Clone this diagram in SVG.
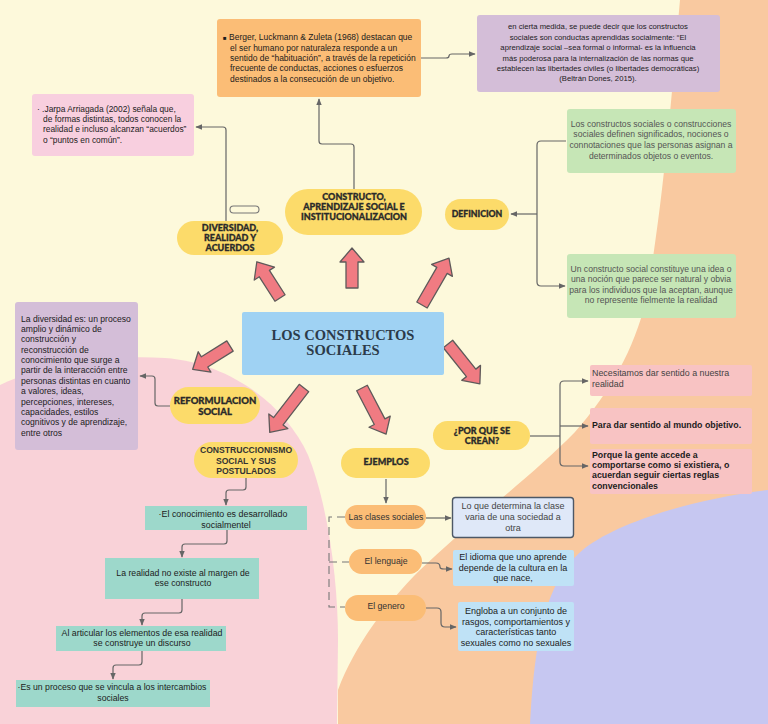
<svg xmlns="http://www.w3.org/2000/svg" width="768" height="724" viewBox="0 0 768 724">
<defs>
<style>
.t{font-family:"Liberation Sans",Arial,sans-serif;font-size:8.7px;fill:#1c1c1c}
.g{fill:#555}
.b{font-weight:bold}
.c{text-anchor:middle}
.h{font-family:Lato,"DejaVu Sans",sans-serif;font-weight:900;font-size:9px;fill:#2a2a2a;stroke:#2a2a2a;stroke-width:0.3;text-anchor:middle}
.cn{fill:none;stroke:#666;stroke-width:1.2}
.ds{fill:none;stroke:#777;stroke-width:1.1;stroke-dasharray:8 5}
.fa{fill:#f07b82;stroke:#5f5a5a;stroke-width:1.3;stroke-linejoin:round}
.yl{fill:#fcdb6a}
.or{fill:#fbbd76}
.pu{fill:#d4bed8}
.gr{fill:#c6e6b6}
.pk{fill:#f8cfdf}
.sa{fill:#f8c3c3}
.te{fill:#9dd8cb}
.bl{fill:#bfe2f6}
</style>
<marker id="ah" viewBox="0 0 10 10" refX="9" refY="5" markerWidth="7" markerHeight="7" orient="auto-start-reverse" markerUnits="userSpaceOnUse">
<path d="M0,1 L10,5 L0,9 Z" fill="#666"/>
</marker>
</defs>

<g id="background">
<rect width="768" height="724" fill="#fdf9db"/>
<path d="M680,0 C672,90 664,200 646,300 C634,350 610,392 575,432 C530,478 470,522 420,570 C385,605 355,645 338,690 L338,724 L768,724 L768,0 Z" fill="#f9c9a0"/>
<path d="M768,490 C700,498 622,520 585,548 C550,576 535,625 530,724 L768,724 Z" fill="#c6c7f1"/>
<path d="M0,385 C50,362 110,355 165,358 C230,363 285,405 308,455 C328,505 338,580 338,640 L337,724 L0,724 Z" fill="#f9d2d8"/>
</g>

<g id="connectors">
<path class="cn" d="M421,58 H446 Q449,58 449,56 Q449,54 452,54 H475" marker-end="url(#ah)"/>
<path class="cn" d="M354,189 V147 Q354,144 351,144 H322 Q319,144 319,141 V99" marker-end="url(#ah)"/>
<path class="cn" d="M226,221 V130 Q226,127 223,127 H196" marker-end="url(#ah)"/>
<rect x="230" y="206" width="29" height="7" rx="3.5" fill="none" stroke="#777" stroke-width="1.1"/>
<path class="cn" d="M566,141 H541 Q537,141 537,145 V282 Q537,286 541,286 H565" marker-end="url(#ah)"/>
<path class="cn" d="M537,214 H511" marker-end="url(#ah)"/>
<path class="cn" d="M170,406 H158 Q155,406 155,403 V379 Q155,376 152,376 H140" marker-end="url(#ah)"/>
<path class="cn" d="M530,436 H560"/>
<path class="cn" d="M588,381 H564 Q560,381 560,385 V462 Q560,466 564,466 H588" marker-start="url(#ah)" marker-end="url(#ah)"/>
<path class="cn" d="M560,426 H588" marker-end="url(#ah)"/>
<path class="cn" d="M246,478 V487 Q246,490 243,490 H229 Q226,490 226,493 V505" marker-end="url(#ah)"/>
<path class="cn" d="M227,530 V541 Q227,544 224,544 H185 Q182,544 182,547 V557" marker-end="url(#ah)"/>
<path class="cn" d="M182,599 V610 Q182,613 179,613 H145 Q142,613 142,616 V625" marker-end="url(#ah)"/>
<path class="cn" d="M142,651 V662 Q142,665 139,665 H116 Q113,665 113,668 V679" marker-end="url(#ah)"/>
<path class="cn" d="M386,479 V503" marker-end="url(#ah)"/>
<path class="ds" d="M345,517 H329 V607 H345 M329,562 H349"/>
<path class="cn" d="M426,518 H451" marker-end="url(#ah)"/>
<path class="cn" d="M422,563 H436 Q440,563 440,567 Q440,569 444,569 H452" marker-end="url(#ah)"/>
<path class="cn" d="M426,608 H437 Q441,608 441,612 V623 Q441,627 445,627 H456" marker-end="url(#ah)"/>
</g>

<g id="big-arrows">
<path class="fa" transform="translate(280,298) rotate(-122.6)" d="M0,-6 H29 V-12 L43,0 L29,12 V6 H0 Z"/>
<path class="fa" transform="translate(352,288) rotate(-90)" d="M0,-6 H26 V-12 L40,0 L26,12 V6 H0 Z"/>
<path class="fa" transform="translate(422,305) rotate(-60)" d="M0,-6 H40 V-12 L54,0 L40,12 V6 H0 Z"/>
<path class="fa" transform="translate(230,346) rotate(148)" d="M0,-6 H30 V-12 L44,0 L30,12 V6 H0 Z"/>
<path class="fa" transform="translate(304,388) rotate(127.7)" d="M0,-6 H42 V-12 L56,0 L42,12 V6 H0 Z"/>
<path class="fa" transform="translate(362,388) rotate(62.4)" d="M0,-6 H38 V-12 L52,0 L38,12 V6 H0 Z"/>
<path class="fa" transform="translate(448,344) rotate(51.3)" d="M0,-6 H37 V-12 L51,0 L37,12 V6 H0 Z"/>
</g>

<g id="center">
<rect x="242" y="312" width="202" height="63" rx="2" fill="#9fd2f3"/>
<text x="343" y="340" text-anchor="middle" font-family="'Liberation Serif','DejaVu Serif',serif" font-weight="bold" font-size="14.5" fill="#2c3b4a">LOS CONSTRUCTOS</text>
<text x="343" y="355" text-anchor="middle" font-family="'Liberation Serif','DejaVu Serif',serif" font-weight="bold" font-size="14.5" fill="#2c3b4a">SOCIALES</text>
</g>

<g id="n-berger">
<rect class="or" x="217" y="19" width="204" height="78" rx="3"/>
<g class="t" style="font-size:8.5px">
<text x="223" y="40"><tspan font-size="6">■</tspan> Berger, Luckmann &amp; Zuleta (1968) destacan que</text>
<text x="230" y="50.5">el ser humano por naturaleza responde a un</text>
<text x="230" y="61">sentido de “habituación”, a través de la repetición</text>
<text x="230" y="71.4">frecuente de conductas, acciones o esfuerzos</text>
<text x="230" y="81.8">destinados a la consecución de un objetivo.</text>
</g>
</g>

<g id="n-beltran">
<rect class="pu" x="477" y="15" width="243" height="77" rx="3"/>
<g class="t c" style="font-size:7.7px">
<text x="598" y="29">en cierta medida, se puede decir que los constructos</text>
<text x="598" y="39.5">sociales son conductas aprendidas socialmente: “El</text>
<text x="598" y="50">aprendizaje social –sea formal o informal- es la influencia</text>
<text x="598" y="60.5">más poderosa para la internalización de las normas que</text>
<text x="598" y="71">establecen las libertades civiles (o libertades democráticas)</text>
<text x="598" y="81.3">(Beltrán Dones, 2015).</text>
</g>
</g>

<g id="n-jarpa">
<rect class="pk" x="32" y="94" width="162" height="62" rx="3"/>
<g class="t" style="font-size:8.4px">
<text x="37" y="111.5">· .Jarpa Arriagada (2002) señala que,</text>
<text x="43" y="121.8">de formas distintas, todos conocen la</text>
<text x="43" y="132.2">realidad e incluso alcanzan “acuerdos”</text>
<text x="43" y="142.5">o “puntos en común”.</text>
</g>
</g>

<g id="n-def1">
<rect class="gr" x="567" y="109" width="169" height="64" rx="3"/>
<g class="t c g" style="font-size:8.6px">
<text x="651" y="126.7">Los constructos sociales o construcciones</text>
<text x="651" y="137.3">sociales definen significados, nociones o</text>
<text x="651" y="148">connotaciones que las personas asignan a</text>
<text x="651" y="158.6">determinados objetos o eventos.</text>
</g>
</g>

<g id="n-def2">
<rect class="gr" x="567" y="254" width="169" height="64" rx="3"/>
<g class="t c g" style="font-size:8.6px">
<text x="651" y="271.7">Un constructo social constituye una idea o</text>
<text x="651" y="282.3">una noción que parece ser natural y obvia</text>
<text x="651" y="292.6">para los individuos que la aceptan, aunque</text>
<text x="651" y="303">no represente fielmente la realidad</text>
</g>
</g>

<g id="n-diversidad-def">
<rect class="pu" x="15" y="302" width="123" height="148" rx="3"/>
<g class="t" style="font-size:8.6px">
<text x="21" y="321.6">La diversidad es: un proceso</text>
<text x="21" y="332">amplio y dinámico de</text>
<text x="21" y="342.3">construcción y</text>
<text x="21" y="352.7">reconstrucción de</text>
<text x="21" y="363">conocimiento que surge a</text>
<text x="21" y="373.4">partir de la interacción entre</text>
<text x="21" y="383.8">personas distintas en cuanto</text>
<text x="21" y="394.1">a valores, ideas,</text>
<text x="21" y="404.5">percepciones, intereses,</text>
<text x="21" y="414.8">capacidades, estilos</text>
<text x="21" y="425.2">cognitivos y de aprendizaje,</text>
<text x="21" y="435.6">entre otros</text>
</g>
</g>

<g id="n-diversidad">
<rect class="yl" x="177" y="221" width="106" height="34" rx="17"/>
<text class="h" x="230" y="231">DIVERSIDAD,</text>
<text class="h" x="230" y="241.2">REALIDAD Y</text>
<text class="h" x="230" y="251.4">ACUERDOS</text>
</g>

<g id="n-constructo">
<rect class="yl" x="285" y="189" width="137" height="46" rx="23"/>
<text class="h" x="354" y="200.4">CONSTRUCTO,</text>
<text class="h" x="354" y="210.2">APRENDIZAJE SOCIAL E</text>
<text class="h" x="354" y="220">INSTITUCIONALIZACION</text>
</g>

<g id="n-definicion">
<rect class="yl" x="445" y="199" width="64" height="31" rx="15.5"/>
<text class="h" x="477" y="216.5" style="font-size:8.7px">DEFINICION</text>
</g>

<g id="n-reformulacion">
<rect class="yl" x="170" y="387" width="90" height="37" rx="18.5"/>
<text class="h" x="215" y="404.3" style="font-size:9.5px">REFORMULACION</text>
<text class="h" x="215" y="414.6" style="font-size:9.5px">SOCIAL</text>
</g>

<g id="n-construccionismo">
<rect class="yl" x="194" y="442" width="104" height="36" rx="18"/>
<g class="t c b" style="font-size:8.6px;fill:#333">
<text x="246" y="453.2">CONSTRUCCIONISMO</text>
<text x="246" y="463.9">SOCIAL Y SUS</text>
<text x="246" y="474.2">POSTULADOS</text>
</g>
</g>

<g id="n-ejemplos">
<rect class="yl" x="341" y="448" width="89" height="30" rx="15"/>
<text class="h" x="386" y="465">EJEMPLOS</text>
</g>

<g id="n-porque">
<rect class="yl" x="433" y="421" width="97" height="29" rx="14.5"/>
<text class="h" x="482" y="433.5">¿POR QUE SE</text>
<text class="h" x="482" y="444.2">CREAN?</text>
</g>

<g id="n-razon1">
<rect class="sa" x="590" y="365" width="162" height="31" rx="2"/>
<text class="t" x="592" y="376.3" style="fill:#444;font-size:8.9px">Necesitamos dar sentido a nuestra</text>
<text class="t" x="592" y="387.3" style="fill:#444;font-size:8.9px">realidad</text>
</g>
<g id="n-razon2">
<rect class="sa" x="590" y="408" width="162" height="36" rx="2"/>
<text class="t b" x="592" y="428" style="font-size:8.8px">Para dar sentido al mundo objetivo.</text>
</g>
<g id="n-razon3">
<rect class="sa" x="590" y="449" width="162" height="45" rx="2"/>
<g class="t b" style="font-size:8.8px">
<text x="592" y="457.8">Porque la gente accede a</text>
<text x="592" y="468.1">comportarse como si existiera, o</text>
<text x="592" y="478.3">acuerdan seguir ciertas reglas</text>
<text x="592" y="488.6">convencionales</text>
</g>
</g>

<g id="n-post1">
<rect class="te" x="145" y="506" width="162" height="24"/>
<text class="t c" x="223" y="517" style="font-size:8.9px">·El conocimiento es desarrollado</text>
<text class="t c" x="226" y="527.5" style="font-size:8.9px">socialmentel</text>
</g>
<g id="n-post2">
<rect class="te" x="105" y="558" width="154" height="41"/>
<text class="t c" x="183" y="575.6">La realidad no existe al margen de</text>
<text class="t c" x="183" y="585.8">ese constructo</text>
</g>
<g id="n-post3">
<rect class="te" x="56" y="626" width="170" height="25"/>
<text class="t c" x="142" y="635.6" style="font-size:8.8px">Al articular los elementos de esa realidad</text>
<text class="t c" x="142" y="646.1" style="font-size:8.8px">se construye un discurso</text>
</g>
<g id="n-post4">
<rect class="te" x="16" y="680" width="194" height="27"/>
<text class="t c" x="112" y="690.2">·Es un proceso que se vincula a los intercambios</text>
<text class="t c" x="113" y="700.5">sociales</text>
</g>

<g id="n-clases">
<rect class="or" x="345" y="505" width="81" height="24" rx="12"/>
<text class="t c" x="386" y="520.2" style="fill:#333">Las clases  sociales</text>
</g>
<g id="n-lenguaje">
<rect class="or" x="349" y="549" width="73" height="25" rx="12.5"/>
<text class="t c" x="386" y="564.2" style="fill:#333">El lenguaje</text>
</g>
<g id="n-genero">
<rect class="or" x="345" y="595" width="81" height="26" rx="13"/>
<text class="t c" x="386" y="609.2" style="fill:#333">El genero</text>
</g>

<g id="n-clase-def">
<rect x="452.5" y="497.5" width="121" height="40" rx="3" fill="#dfe8f8" stroke="#4d5866" stroke-width="1.4"/>
<g class="t c" style="fill:#444;font-size:9px">
<text x="513" y="509.2">Lo que determina la clase</text>
<text x="513" y="519.7">varia de una sociedad a</text>
<text x="513" y="530.6">otra</text>
</g>
</g>
<g id="n-lenguaje-def">
<rect class="bl" x="453" y="550" width="121" height="36" rx="2"/>
<g class="t c" style="font-size:9px">
<text x="513" y="560.4">El idioma que uno aprende</text>
<text x="513" y="571">depende de la cultura en la</text>
<text x="513" y="581.2">que nace,</text>
</g>
</g>
<g id="n-genero-def">
<rect class="bl" x="458" y="602" width="116" height="49" rx="2"/>
<g class="t c" style="font-size:9px">
<text x="516" y="614.4">Engloba a un conjunto de</text>
<text x="516" y="625">rasgos, comportamientos y</text>
<text x="516" y="635.2">características tanto</text>
<text x="516" y="645.8">sexuales como no sexuales</text>
</g>
</g>
</svg>
